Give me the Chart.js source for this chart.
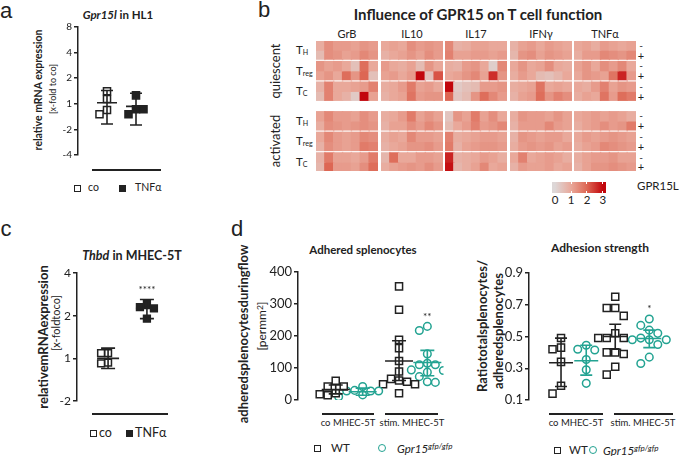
<!DOCTYPE html>
<html>
<head>
<meta charset="utf-8">
<script src="https://cdn.jsdelivr.net/npm/chart.js@4.4.1/dist/chart.umd.min.js"></script>
<style>
  body { margin: 0; background: #fff; width: 681px; height: 456px; position: relative; overflow: hidden;
         font-family: Lato, 'Open Sans', sans-serif; color: #222; }
  .box { position: absolute; }
  .t { position: absolute; white-space: nowrap; line-height: 1; }
  .t sub { font-size: 0.62em; vertical-align: -0.25em; }
  .t sup { font-size: 0.7em; vertical-align: 0.45em; }
  .hline { position: absolute; height: 1.5px; background: #222; }
</style>
</head>
<body>
<script>
// ---------- panel a: Gpr15l in HL1 (log2 units, 0 = 1-fold) ----------
const aLabels = ['co', 'TNFα'];
const aCo = [0.49, 0.19, -0.24, -0.41];
const aTnf = [0.33, -0.21, -0.41, -0.21];
const aMean = [0.04, -0.1];
const aLo = [-0.79, -0.83];
const aHi = [0.52, 0.41];
const aTicks = [-2, -1, 0, 1, 2, 3];

// ---------- panel c: Thbd in MHEC-5T ----------
const cCo = [0.12, 0.12, -0.1, -0.12];
const cTnf = [1.27, 1.2, 1.17, 0.93];
const cMean = [0, 1.17];
const cLo = [-0.24, 0.93];
const cHi = [0.24, 1.38];
const cTicks = [-1, 0, 1, 2];

// ---------- panel d: adhered splenocytes [per mm2] ----------
const dGroups = ['co MHEC-5T', 'stim. MHEC-5T'];
const dWTco = [60, 42, 42, 21, 18, 15];
const dKOco = [42, 30, 28, 28, 28, 16, 10];
const dWTst = [355, 282, 188, 162, 122, 89, 66, 61, 57, 49, 49, 21];
const dKOst = [230, 217, 144, 115, 110, 110, 94, 92, 87, 73, 57, 55];
const dMean = [33, 26, 122, 117];
const dLo = [19, 15, 61, 76];
const dHi = [47, 37, 185, 155];
const dStars = ['', '', '', '**'];

// ---------- panel d: adhesion strength ----------
const rWTco = [0.49, 0.43, 0.42, 0.34, 0.19, 0.14];
const rKOco = [0.445, 0.42, 0.415, 0.355, 0.29, 0.205];
const rWTst = [0.75, 0.68, 0.68, 0.63, 0.52, 0.49, 0.49, 0.49, 0.40, 0.40, 0.39, 0.31, 0.26];
const rKOst = [0.61, 0.57, 0.54, 0.52, 0.49, 0.48, 0.48, 0.48, 0.45, 0.37, 0.33];
const rMean = [0.335, 0.347, 0.50, 0.487];
const rLo = [0.185, 0.257, 0.42, 0.43];
const rHi = [0.49, 0.445, 0.577, 0.54];
const rStars = ['', '', '', '*'];

// ---------- panel b: heatmap, rows = q-TH-,q-TH+,q-Treg-,q-Treg+,q-Tc-,q-Tc+, then activated ----------
const cytokines = ['GrB', 'IL10', 'IL17', 'IFNγ', 'TNFα'];
const cellTypes = ['T<sub>H</sub>', 'T<sub>reg</sub>', 'T<sub>C</sub>'];
const grb = [
  [0.9, 1.4, 1.2, 1.2, 1.1, 1.3, 1.2], [0.6, 1.4, 1.3, 1.1, 1.2, 1.5, 1.3],
  [1.3, 1.1, 1.2, 1.0, 0.5, 1.9, 1.0], [1.1, 1.3, 1.0, 1.9, 1.3, 2.0, 0.5],
  [0.8, 1.6, 1.0, 1.0, 1.1, 1.2, 1.6], [0.6, 1.6, 1.0, 0.8, 0.3, 3.0, 1.1],
  [1.1, 1.5, 1.2, 1.2, 1.1, 1.4, 1.2], [0.9, 1.4, 1.3, 1.2, 1.3, 1.4, 1.3],
  [1.0, 1.5, 1.2, 1.1, 1.2, 1.5, 1.4], [0.8, 1.4, 1.2, 1.1, 1.2, 1.7, 1.6],
  [0.8, 1.7, 1.1, 1.1, 1.0, 1.2, 1.7], [0.7, 2.0, 1.2, 1.2, 1.1, 1.4, 1.9]
];
const il10 = [
  [1.0, 1.1, 1.0, 1.4, 1.2, 1.3, 1.2], [0.8, 1.0, 1.1, 1.3, 1.1, 1.4, 1.2],
  [1.2, 1.0, 0.9, 1.1, 0.6, 1.3, 1.0], [1.1, 1.2, 1.0, 1.2, 3.0, 0.5, 2.2],
  [0.9, 1.0, 1.2, 1.7, 1.1, 1.2, 1.0], [0.8, 1.0, 1.1, 1.8, 1.2, 1.3, 1.3],
  [0.9, 1.0, 1.2, 1.7, 1.1, 1.3, 1.1], [0.8, 1.1, 1.1, 1.4, 1.2, 1.5, 1.3],
  [0.9, 1.1, 1.0, 1.5, 1.2, 1.2, 1.1], [0.8, 1.0, 1.1, 1.3, 1.3, 1.4, 1.2],
  [0.7, 1.9, 1.0, 1.0, 1.2, 1.2, 1.1], [0.9, 1.1, 1.2, 1.3, 1.2, 1.4, 1.2]
];
const il17 = [
  [1.5, 0.8, 0.9, 1.1, 1.1, 1.0, 1.0], [1.6, 1.1, 1.1, 1.2, 1.2, 1.1, 1.2],
  [0.9, 0.8, 1.2, 1.3, 1.0, 0.2, 1.5], [1.0, 1.1, 1.3, 1.5, 1.1, 2.6, 1.3],
  [3.0, 0.3, 0.5, 0.6, 1.2, 1.2, 1.3], [2.0, 0.4, 0.6, 1.3, 1.9, 1.5, 1.2],
  [0.4, 1.3, 1.1, 1.7, 1.1, 1.4, 1.0], [0.6, 1.0, 1.2, 1.6, 1.2, 1.3, 1.5],
  [1.6, 0.9, 1.0, 1.1, 1.2, 1.2, 1.1], [1.7, 0.8, 1.1, 1.2, 1.3, 1.3, 1.2],
  [2.7, 0.8, 0.9, 1.0, 1.2, 1.1, 0.9], [2.9, 0.7, 0.9, 1.1, 1.5, 1.0, 1.1]
];
const ifng = [
  [0.8, 1.1, 1.2, 1.0, 1.2, 1.1, 1.0], [0.7, 1.3, 1.4, 1.1, 1.3, 1.2, 1.1],
  [1.0, 1.3, 1.0, 1.1, 1.4, 1.0, 0.9], [0.9, 1.2, 1.0, 0.6, 0.5, 0.7, 1.0],
  [0.9, 1.0, 1.1, 1.8, 1.0, 1.1, 1.0], [0.8, 1.1, 1.2, 1.9, 1.3, 1.6, 1.4],
  [0.9, 1.3, 1.2, 1.2, 1.1, 1.3, 1.1], [0.8, 1.2, 1.2, 1.2, 1.5, 1.2, 1.1],
  [0.8, 1.3, 1.2, 1.1, 1.2, 1.2, 1.0], [0.9, 1.2, 1.3, 1.2, 1.3, 1.1, 1.2],
  [1.0, 1.6, 1.0, 1.1, 1.2, 1.1, 0.9], [0.8, 1.2, 1.1, 1.1, 1.2, 1.0, 1.1]
];
const tnfa = [
  [1.0, 1.1, 0.9, 1.2, 1.1, 1.0, 1.1], [0.9, 1.2, 1.2, 1.5, 1.4, 1.3, 1.5],
  [1.1, 1.3, 1.0, 1.4, 1.2, 1.5, 1.0], [1.0, 1.3, 1.2, 1.1, 1.8, 2.7, 1.2],
  [1.0, 0.9, 1.2, 1.6, 1.1, 1.3, 1.2], [0.9, 1.1, 1.0, 1.8, 1.2, 1.9, 1.7],
  [1.0, 1.1, 1.2, 1.1, 1.2, 1.1, 0.9], [0.9, 1.1, 1.2, 1.4, 1.2, 1.3, 1.7],
  [1.0, 1.2, 1.1, 1.2, 1.3, 1.2, 1.1], [0.9, 1.1, 1.2, 1.5, 1.4, 1.3, 1.2],
  [0.9, 1.1, 1.2, 1.2, 1.3, 1.1, 1.1], [0.8, 1.1, 1.3, 1.3, 1.4, 1.3, 1.2]
];
const colorbarTicks = [0, 1, 2, 3];

const BLACK = '#222';
const TEAL = '#23a392';
Chart.defaults.font.family = 'Lato';
Chart.defaults.color = BLACK;

// ---------- helpers ----------
function label(html, x, y, css, rot, align) {
  const d = document.createElement('div');
  d.className = 't';
  d.innerHTML = html;
  d.style.cssText += css || '';
  d.style.left = x + 'px';
  d.style.top = y + 'px';
  const tx = align === 'l' ? '0' : '-50%';
  d.style.transform = 'translate(' + tx + ',-50%)' + (rot ? ' rotate(-90deg)' : '');
  document.body.appendChild(d);
  return d;
}
function hline(x, y, w) {
  const d = document.createElement('div');
  d.className = 'hline';
  d.style.left = x + 'px'; d.style.top = y + 'px'; d.style.width = w + 'px';
  document.body.appendChild(d);
}
function swatch(x, y, kind) {
  const d = document.createElement('div');
  d.style.position = 'absolute';
  d.style.boxSizing = 'border-box';
  if (kind === 'circle') {
    Object.assign(d.style, {left: (x - 4) + 'px', top: (y - 4) + 'px', width: '8px', height: '8px',
      border: '1.5px solid ' + TEAL, borderRadius: '50%'});
  } else {
    Object.assign(d.style, {left: (x - 3.5) + 'px', top: (y - 3.5) + 'px', width: '7px', height: '7px',
      border: '1.5px solid ' + BLACK, background: kind === 'filled' ? BLACK : '#fff'});
  }
  document.body.appendChild(d);
}
function makeCanvas(left, top, w, h) {
  const wrap = document.createElement('div');
  wrap.className = 'box';
  Object.assign(wrap.style, {left: left + 'px', top: top + 'px', width: w + 'px', height: h + 'px'});
  const cv = document.createElement('canvas');
  cv.width = w; cv.height = h;
  cv.style.width = w + 'px'; cv.style.height = h + 'px';
  wrap.appendChild(cv);
  document.body.appendChild(wrap);
  return cv;
}

// mean line, SD whiskers and significance stars per group
const errBars = {
  id: 'errbars',
  afterDatasetsDraw(chart, args, o) {
    const {ctx, scales: {x, y}} = chart;
    ctx.save();
    ctx.lineWidth = 1.6;
    o.mean.forEach((m, i) => {
      const px = x.getPixelForValue(o.xs[i]);
      const yt = y.getPixelForValue(o.hi[i]);
      const yb = y.getPixelForValue(o.lo[i]);
      const ym = y.getPixelForValue(m);
      ctx.strokeStyle = o.colors[i];
      ctx.beginPath();
      ctx.moveTo(px, yt); ctx.lineTo(px, yb);
      ctx.moveTo(px - o.cap, yt); ctx.lineTo(px + o.cap, yt);
      ctx.moveTo(px - o.cap, yb); ctx.lineTo(px + o.cap, yb);
      ctx.moveTo(px - o.wide, ym); ctx.lineTo(px + o.wide, ym);
      ctx.stroke();
      if (o.stars && o.stars[i]) {
        const pts = chart.getDatasetMeta(i).data.map(e => e.y);
        const top = Math.min(yt, ...pts) - 5;
        ctx.fillStyle = BLACK;
        ctx.font = '10px Lato';
        ctx.textAlign = 'center';
        ctx.textBaseline = 'bottom';
        ctx.fillText(o.stars[i], px, top);
      }
    });
    ctx.restore();
  }
};

// simple beeswarm: spread overlapping points sideways in pixel space
function swarm(chart, xs, step) {
  const ys = chart.scales.y, xsc = chart.scales.x;
  const pxPerX = Math.abs(xsc.getPixelForValue(1) - xsc.getPixelForValue(0));
  chart.data.datasets.forEach((ds, i) => {
    const placed = [];
    ds.data.forEach(p => {
      const py = ys.getPixelForValue(p.y);
      let off = 0;
      for (const t of [0, -1, 1, -2, 2, -3, 3]) {
        off = t * step;
        if (placed.every(q => Math.hypot(q.x - off, q.y - py) >= step)) break;
      }
      placed.push({x: off, y: py});
      p.x = xs[i] + off / pxPerX;
    });
  });
  chart.update('none');
}

function dotPlot(o) {
  const cv = makeCanvas(o.left, o.top, o.width, o.height);
  const datasets = o.groups.map((g, i) => ({
    data: g.values.map(v => ({x: o.xs[i], y: v})),
    pointStyle: g.style,
    pointRadius: g.r,
    borderColor: g.color,
    backgroundColor: g.fill,
    borderWidth: 1.5
  }));
  const chart = new Chart(cv, {
    type: 'scatter',
    data: {datasets},
    options: {
      responsive: false, animation: false, events: [],
      layout: {padding: o.pad},
      plugins: {
        legend: {display: false}, tooltip: {enabled: false},
        errbars: {xs: o.xs, mean: o.mean, lo: o.lo, hi: o.hi, colors: o.groups.map(g => g.color),
                  stars: o.stars, cap: o.cap, wide: o.wide}
      },
      scales: {
        x: {type: 'linear', display: false, min: o.xMin, max: o.xMax},
        y: {
          min: o.yMin, max: o.yMax,
          afterFit: s => { s.width = o.yw; },
          afterBuildTicks: s => { s.ticks = o.yTicks.map(v => ({value: v})); },
          ticks: {callback: o.fmt, font: {size: o.tickSize}, color: BLACK, padding: 2},
          grid: {drawOnChartArea: false, drawTicks: true, tickLength: 4, color: BLACK, lineWidth: 1.5},
          border: {color: BLACK, width: 1.5}
        }
      }
    },
    plugins: [errBars]
  });
  swarm(chart, o.xs, o.step);
  return chart;
}
const log2Label = v => (v >= 0 ? Math.pow(2, v) : -Math.pow(2, -v));

// ---------- panel a ----------
label('a', 6, 11, 'font:22px "Liberation Sans"');
label('<i>Gpr15l</i> in HL1', 118, 15, 'font-weight:700;font-size:11.5px');
label('relative mRNA expression', 38, 90, 'font-weight:700;font-size:10.5px', true);
label('[x-fold to co]', 52, 89, 'font-size:9px', true);
dotPlot({
  left: 30, top: 15, width: 150, height: 150, yw: 48, pad: {top: 12, bottom: 10, right: 15, left: 0},
  xMin: 0, xMax: 3, xs: [1, 2], yMin: -2, yMax: 3, yTicks: aTicks, fmt: log2Label, tickSize: 10,
  groups: [
    {values: aCo, style: 'rect', r: 5, color: BLACK, fill: '#fff'},
    {values: aTnf, style: 'rect', r: 5, color: BLACK, fill: BLACK}
  ],
  mean: aMean, lo: aLo, hi: aHi, cap: 6, wide: 10, step: 7.5
});
hline(92, 169, 69);
swatch(77, 188, 'open');
label(aLabels[0], 88, 187, 'font-size:10.5px', false, 'l');
swatch(122, 188, 'filled');
label(aLabels[1], 135, 187, 'font-size:10.5px', false, 'l');

// ---------- panel b: heatmap ----------
label('b', 264, 10, 'font:22px "Liberation Sans"');
label('Influence of GPR15 on T cell function', 478, 14, 'font-weight:700;font-size:15px');
const boxGap = 0.28, sectGap = 1.0;
const rowTop = r => { const k = Math.floor(r / 2); return r + k * boxGap + (k >= 3 ? sectGap : 0); };
const yMax = rowTop(11) + 1;
const hmTop = 41, hmH = 130, hmLeft = 316, hmW = 62, hmStep = 64.5;
const pxRow = hmH / yMax;
const heatStops = [[0, [221, 215, 215]], [1, [233, 168, 154]], [2, [221, 103, 84]], [3, [194, 6, 12]]];
function heatColor(v) {
  v = Math.max(0, Math.min(3, v));
  const i = Math.min(2, Math.floor(v));
  const t = v - i, a = heatStops[i][1], b = heatStops[i + 1][1];
  return 'rgb(' + a.map((c, k) => Math.round(c + (b[k] - c) * t)).join(',') + ')';
}
[grb, il10, il17, ifng, tnfa].forEach((block, i) => {
  const left = Math.round(hmLeft + i * hmStep);
  label(cytokines[i], left + hmW / 2, 33, 'font-size:11px');
  const cv = makeCanvas(left, hmTop, hmW, hmH);
  new Chart(cv, {
    type: 'bar',
    data: {
      labels: block[0].map((_, c) => c + 1),
      datasets: block.map((row, r) => ({
        data: row.map(() => [rowTop(r), rowTop(r) + 1]),
        backgroundColor: row.map(heatColor),
        borderWidth: 0, inflateAmount: 0.7,
        barPercentage: 1, categoryPercentage: 1, grouped: false
      }))
    },
    options: {
      responsive: false, animation: false, events: [],
      layout: {padding: 0},
      plugins: {legend: {display: false}, tooltip: {enabled: false}},
      scales: {
        x: {display: false, stacked: true},
        y: {display: false, stacked: false, min: 0, max: yMax, reverse: true}
      }
    }
  });
});
for (let k = 0; k < 6; k++) {
  const y0 = hmTop + rowTop(2 * k) * pxRow;
  label(cellTypes[k % 3], 296, y0 + pxRow, 'font-size:11.5px', false, 'l');
  label('-', 641, y0 + pxRow * 0.4, 'font-size:10px');
  label('+', 641, y0 + pxRow * 1.5, 'font-size:11px');
}
label('quiescent', 275, hmTop + (rowTop(0) + rowTop(5) + 1) / 2 * pxRow, 'font-size:13px', true);
label('activated', 275, hmTop + (rowTop(6) + rowTop(11) + 1) / 2 * pxRow, 'font-size:13px', true);
// colour scale
const cbLeft = 552, cbW = 54, cbLo = -0.19, cbHi = 3.19;
const cbPos = v => (v - cbLo) / (cbHi - cbLo) * cbW;
const cb = document.createElement('div');
const stops = colorbarTicks.map(v => heatColor(v) + ' ' + (cbPos(v) / cbW * 100).toFixed(1) + '%');
Object.assign(cb.style, {position: 'absolute', left: cbLeft + 'px', top: '182px', width: cbW + 'px', height: '11px',
  background: 'linear-gradient(to right,' + heatColor(0) + ' 0%,' + stops.join(',') + ',' + heatColor(3) + ' 100%)'});
document.body.appendChild(cb);
colorbarTicks.forEach(v => {
  if (v > 0) {
    [182, 191].forEach(ty => {
      const m = document.createElement('div');
      Object.assign(m.style, {position: 'absolute', left: (cbLeft + cbPos(v) - 0.5) + 'px', top: ty + 'px',
        width: '1px', height: '2px', background: '#fff'});
      document.body.appendChild(m);
    });
  }
  label(String(v), cbLeft + cbPos(v), 200, 'font-size:11.5px');
});
label('GPR15L', 637, 186, 'font-size:11.5px', false, 'l');

// ---------- panel c ----------
label('c', 6, 229, 'font:22px "Liberation Sans"');
label('<i>Thbd</i> in MHEC-5T', 132, 256, 'font-weight:700;font-size:12.5px');
label('relativemRNAexpression', 43, 337, 'font-weight:700;font-size:13px', true);
label('[x-foldtoco]', 55, 323, 'font-size:11px', true);
dotPlot({
  left: 30, top: 258, width: 160, height: 155, yw: 47, pad: {top: 15, bottom: 12, right: 12, left: 0},
  xMin: 0.2, xMax: 2.8, xs: [1, 2], yMin: -1, yMax: 2, yTicks: cTicks, fmt: log2Label, tickSize: 12,
  groups: [
    {values: cCo, style: 'rect', r: 4.8, color: BLACK, fill: '#fff'},
    {values: cTnf, style: 'rect', r: 4.8, color: BLACK, fill: BLACK}
  ],
  mean: cMean, lo: cLo, hi: cHi, cap: 7, wide: 11, step: 7, stars: ['', '****']
});
hline(92, 413, 76);
swatch(93, 433, 'open');
label(aLabels[0], 99, 433, 'font-size:12.5px', false, 'l');
swatch(129, 433, 'filled');
label(aLabels[1], 135, 433, 'font-size:12.5px', false, 'l');

// ---------- panel d ----------
label('d', 237, 229, 'font:22px "Liberation Sans"');
const groupFont = 'font-family:"Liberation Sans Narrow",Lato;font-size:9.5px';
const koLabel = '<i>Gpr15</i><sup><i>gfp/gfp</i></sup>';

label('Adhered splenocytes', 363, 250, 'font-weight:700;font-size:11.5px');
label('adheredsplenocytesduringflow', 243, 334, 'font-weight:700;font-size:13px', true);
label('[permm<sup>2</sup>]', 262, 326, 'font-size:12px', true);
dotPlot({
  left: 250, top: 258, width: 200, height: 155, yw: 48, pad: {top: 14, bottom: 13, right: 6, left: 0},
  xMin: -0.4, xMax: 5, xs: [1, 2, 3.35, 4.4], yMin: 0, yMax: 400, yTicks: [0, 100, 200, 300, 400],
  fmt: v => v, tickSize: 13,
  groups: [
    {values: dWTco, style: 'rect', r: 5, color: BLACK, fill: '#fff'},
    {values: dKOco, style: 'circle', r: 3.8, color: TEAL, fill: '#fff'},
    {values: dWTst, style: 'rect', r: 5, color: BLACK, fill: '#fff'},
    {values: dKOst, style: 'circle', r: 3.8, color: TEAL, fill: '#fff'}
  ],
  mean: dMean, lo: dLo, hi: dHi, cap: 7, wide: 14, step: 8, stars: dStars
});
hline(322, 413, 52); hline(385, 413, 53);
label(dGroups[0], 348, 423, groupFont);
label(dGroups[1], 412, 423, groupFont);
swatch(317, 448, 'open');
label('WT', 331, 448, 'font-size:11.5px', false, 'l');
swatch(382, 448, 'circle');
label(koLabel, 397, 448, 'font-size:11.5px', false, 'l');

label('Adhesion strength', 600, 248, 'font-weight:700;font-size:12px');
label('Ratiototalsplenocytes/', 482, 326, 'font-weight:700;font-size:13px', true);
label('adheredsplenocytes', 498, 331, 'font-weight:700;font-size:13px', true);
dotPlot({
  left: 480, top: 258, width: 201, height: 155, yw: 49, pad: {top: 15, bottom: 13, right: 0, left: 0},
  xMin: -0.27, xMax: 5.5, xs: [1, 2, 3.15, 4.5], yMin: 0.1, yMax: 0.9, yTicks: [0.1, 0.3, 0.5, 0.7, 0.9],
  fmt: v => v.toFixed(1), tickSize: 13,
  groups: [
    {values: rWTco, style: 'rect', r: 5, color: BLACK, fill: '#fff'},
    {values: rKOco, style: 'circle', r: 3.8, color: TEAL, fill: '#fff'},
    {values: rWTst, style: 'rect', r: 5, color: BLACK, fill: '#fff'},
    {values: rKOst, style: 'circle', r: 3.8, color: TEAL, fill: '#fff'}
  ],
  mean: rMean, lo: rLo, hi: rHi, cap: 6, wide: 12, step: 8.5, stars: rStars
});
hline(549, 413, 54); hline(614, 413, 59);
label(dGroups[0], 576, 423, groupFont);
label(dGroups[1], 643, 423, groupFont);
swatch(557, 450, 'open');
label('WT', 569, 450, 'font-size:11.5px', false, 'l');
swatch(593, 450, 'circle');
label(koLabel, 603, 450, 'font-size:11.5px', false, 'l');
</script>
</body>
</html>
